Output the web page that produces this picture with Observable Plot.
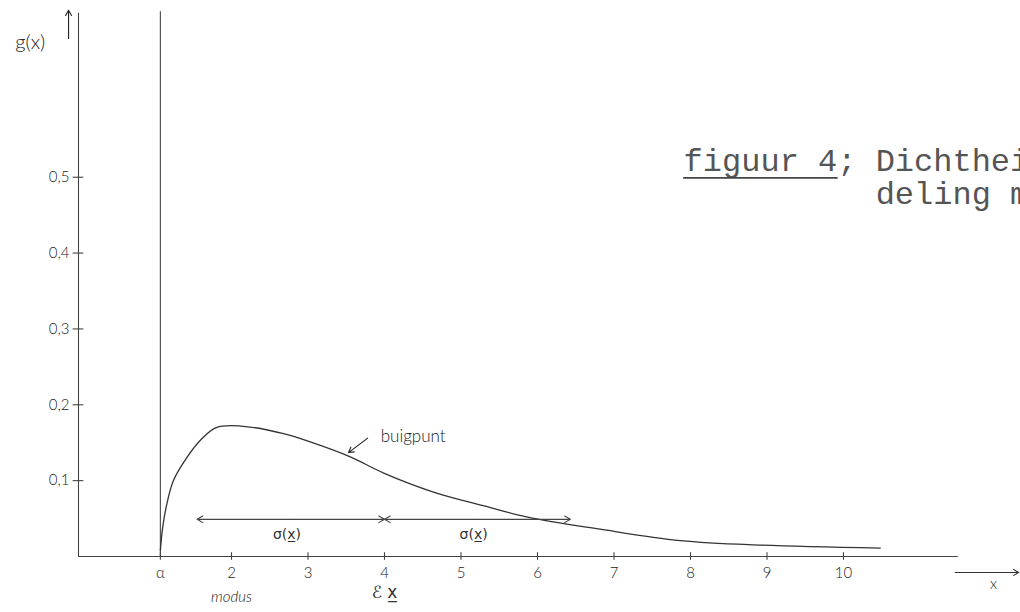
<!DOCTYPE html>
<html><head><meta charset="utf-8">
<script src="https://cdn.jsdelivr.net/npm/d3@7"></script>
<script src="https://cdn.jsdelivr.net/npm/@observablehq/plot@0.6"></script>
<style>html,body{margin:0;padding:0;background:#fff;overflow:hidden}</style>
</head><body><div id="chart"></div>
<script>
// ---- data ----
const alpha = 1.07;
const curveX = [1.07, 1.10, 1.15, 1.24, 1.42, 1.59, 1.80, 2.12, 2.68, 3.03, 3.56, 3.99, 4.64, 5.29, 5.87, 6.82, 7.87, 8.92, 10.48];
const curveY = [0.008, 0.038, 0.067, 0.100, 0.131, 0.153, 0.170, 0.172, 0.162, 0.151, 0.131, 0.110, 0.085, 0.067, 0.052, 0.036, 0.021, 0.015, 0.011];
const xTickValues = [alpha, 2, 3, 4, 5, 6, 7, 8, 9, 10];
const xTickLabels = ["α", "2", "3", "4", "5", "6", "7", "8", "9", "10"];
const yTickValues = [0.1, 0.2, 0.3, 0.4, 0.5];
const yTickLabels = ["0,1", "0,2", "0,3", "0,4", "0,5"];
const modeX = 2;          // modus
const meanX = 4;          // E x
const sigmaStarts = [1.55, 4.0];
const sigmaEnds = [4.0, 6.43];
const sigmaLabels = ["σ(x̲)", "σ(x̲)"];
const inflectionX = 3.53; // buigpunt
const titleLines = ["figuur 4; Dichthei", "deling m"];

const curve = curveX.map((x, i) => ({x, y: curveY[i]}));
const xTicks = xTickValues.map((v, i) => ({v, label: xTickLabels[i]}));
const yTicks = yTickValues.map((v, i) => ({v, label: yTickLabels[i]}));
const sigmas = sigmaStarts.map((s, i) => ({x1: s, x2: sigmaEnds[i], mid: (s + sigmaEnds[i]) / 2, label: sigmaLabels[i]}));

const ink = "#444";
const hand = "Lato, 'Open Sans', sans-serif";
const uni = "'DejaVu Sans', sans-serif";
const typewriter = "'Liberation Mono', 'DejaVu Sans Mono', monospace";
const sigmaY = 0.049;

const chart = Plot.plot({
  width: 1020, height: 612,
  marginLeft: 78, marginRight: 24, marginTop: 25, marginBottom: 56,
  x: {domain: [0, 12], axis: null},
  y: {domain: [0, 0.7], axis: null},
  style: {background: "#fff"},
  marks: [
    // axes
    Plot.ruleY([0], {x1: 0, x2: 11.5, stroke: ink, strokeWidth: 1.1}),
    Plot.ruleX([0], {y1: 0, y2: 0.716, stroke: ink, strokeWidth: 1.1}),
    Plot.ruleX([alpha], {y1: 0, y2: 0.718, stroke: ink, strokeWidth: 1.1}),
    // crossing ticks
    Plot.ruleY(yTicks, {y: "v", x1: -0.07, x2: 0.07, stroke: ink, strokeWidth: 1.1}),
    Plot.ruleX(xTicks, {x: "v", y1: -0.005, y2: 0.005, stroke: ink, strokeWidth: 1.1}),
    // tick labels
    Plot.text(yTicks, {x: 0, y: "v", text: "label", textAnchor: "end", dx: -9, fontSize: 15, fontFamily: hand, fontWeight: 300, fill: "#222"}),
    Plot.text(xTicks, {x: "v", y: 0, text: "label", dy: 17, fontSize: 15, fontFamily: hand, fontWeight: 300, fill: "#222"}),
    // axis arrows and names
    Plot.arrow([0], {x1: -0.13, y1: 0.683, x2: -0.13, y2: 0.72, stroke: "#222", strokeWidth: 1.1, headLength: 8}),
    Plot.text(["g(x)"], {x: -0.63, y: 0.677, fontSize: 20, fontFamily: hand, fontWeight: 300, fill: "#222"}),
    Plot.arrow([0], {x1: 11.46, y1: -0.021, x2: 12.29, y2: -0.021, stroke: "#333", strokeWidth: 1.1, headLength: 8}),
    Plot.text(["x"], {x: 11.96, y: -0.037, fontSize: 15, fontFamily: hand, fontWeight: 300, fill: "#222"}),
    Plot.text(["modus"], {x: modeX, y: 0, dy: 41, fontSize: 15, fontStyle: "italic", fontFamily: hand, fontWeight: 300, fill: "#222"}),
    Plot.text(["ℰ x̲"], {x: meanX, y: 0, dy: 36, fontSize: 17, fontFamily: uni, fill: "#333"}),
    // density curve
    Plot.line(curve, {x: "x", y: "y", curve: "catmull-rom", stroke: "#333", strokeWidth: 1.3}),
    // sigma double arrows (drawn from the middle outwards)
    Plot.arrow(sigmas, {x1: "mid", x2: "x1", y1: sigmaY, y2: sigmaY, stroke: ink, strokeWidth: 1.1, headLength: 9}),
    Plot.arrow(sigmas, {x1: "mid", x2: "x2", y1: sigmaY, y2: sigmaY, stroke: ink, strokeWidth: 1.1, headLength: 9}),
    Plot.text(sigmas, {x: d => d.mid - 0.05, y: sigmaY, dy: 15, text: "label", fontSize: 14, fontFamily: uni, fill: "#333"}),
    // buigpunt
    Plot.arrow([0], {x1: inflectionX + 0.25, y1: 0.156, x2: inflectionX, y2: 0.137, stroke: "#222", strokeWidth: 1.1, headLength: 8}),
    Plot.text(["buigpunt"], {x: inflectionX + 0.42, y: 0.158, textAnchor: "start", fontSize: 17, fontFamily: hand, fontWeight: 300, fill: "#222"}),
    // title (typewritten)
    Plot.text([titleLines[0]], {x: 7.91, y: 0.522, textAnchor: "start", fontSize: 32, fontFamily: typewriter, fill: "#555"}),
    Plot.text([titleLines[1]], {x: 10.42, y: 0.478, textAnchor: "start", fontSize: 32, fontFamily: typewriter, fill: "#555"}),
    Plot.ruleY([0.499], {x1: 7.91, x2: 9.93, stroke: "#444", strokeWidth: 1.8})
  ]
});
document.getElementById("chart").appendChild(chart);
</script>
</body></html>
